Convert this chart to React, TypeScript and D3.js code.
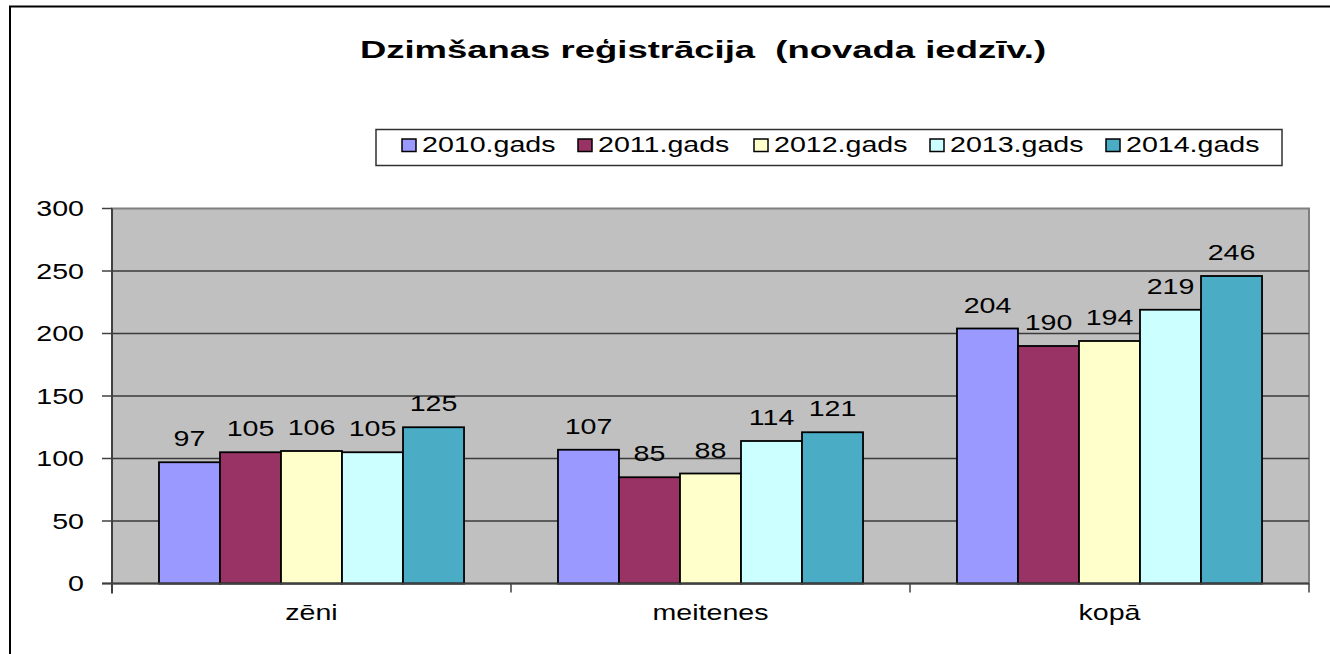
import React, { useRef, useEffect } from 'react';
import * as d3 from 'd3';

const categories = ['zēni', 'meitenes', 'kopā'];
const seriesNames = ['2010.gads', '2011.gads', '2012.gads', '2013.gads', '2014.gads'];
const seriesColors = ['#9999FF', '#993366', '#FFFFCC', '#CCFFFF', '#4BACC6'];
// values per series, in category order
const values2010 = [97, 107, 204];
const values2011 = [105, 85, 190];
const values2012 = [106, 88, 194];
const values2013 = [105, 114, 219];
const values2014 = [125, 121, 246];
const yTicks = [0, 50, 100, 150, 200, 250, 300];
const title = 'Dzimšanas reģistrācija  (novada iedzīv.)';

const seriesValues = [values2010, values2011, values2012, values2013, values2014];

const W = 1330;
const H = 654;
const FONT = '"Liberation Sans", Arial, sans-serif';
const SX = 1.3; // the source picture is stretched sideways

export default function App() {
    const ref = useRef<SVGSVGElement>(null);

    useEffect(() => {
        drawChart();
    }, []);

    const drawChart = () => {
        const svg = d3.select(ref.current);
        svg.selectAll('*').remove();

        const plot = { left: 112, right: 1309, top: 208.5, bottom: 583.5 };

        // outer frame
        svg.append('rect')
            .attr('x', 10).attr('y', 6.5)
            .attr('width', W).attr('height', H)
            .attr('fill', 'white')
            .attr('stroke', 'black')
            .attr('stroke-width', 2);

        const stretched = (sel: any, x: number, y: number, sx = SX) =>
            sel.attr('transform', `translate(${x},${y}) scale(${sx},1)`);

        // title
        svg.append('text')
            .call(stretched, 703, 58, 1.52)
            .attr('text-anchor', 'middle')
            .style('font-family', FONT)
            .style('font-size', '24px')
            .style('font-weight', 'bold')
            .style('white-space', 'pre')
            .text(title);

        const x0 = d3.scaleBand().domain(categories).range([plot.left, plot.right]);
        const x1 = d3.scaleBand().domain(seriesNames).range([0, x0.bandwidth()]).paddingOuter(0.77);
        const y = d3.scaleLinear().domain([0, 300]).range([plot.bottom, plot.top]);

        // plot background
        svg.append('rect')
            .attr('x', plot.left).attr('y', plot.top)
            .attr('width', plot.right - plot.left).attr('height', plot.bottom - plot.top)
            .attr('fill', '#C0C0C0')
            .attr('stroke', '#808080')
            .attr('stroke-width', 2);

        // gridlines
        svg.append('g')
            .selectAll('line')
            .data(yTicks.filter(d => d > 0 && d < 300))
            .join('line')
            .attr('x1', plot.left).attr('x2', plot.right)
            .attr('y1', d => y(d)).attr('y2', d => y(d))
            .attr('stroke', '#3a3a3a')
            .attr('stroke-width', 1.5);

        // bars
        const groups = svg.append('g')
            .selectAll('g')
            .data(seriesNames)
            .join('g')
            .attr('fill', (d, i) => seriesColors[i]);

        groups.selectAll('rect')
            .data((s, i) => seriesValues[i].map((v, c) => ({ s, v, c: categories[c] })))
            .join('rect')
            .attr('x', d => x0(d.c)! + x1(d.s)!)
            .attr('y', d => y(d.v))
            .attr('width', x1.bandwidth())
            .attr('height', d => y(0) - y(d.v))
            .attr('stroke', 'black')
            .attr('stroke-width', 1.8);

        // value labels
        groups.selectAll('text')
            .data((s, i) => seriesValues[i].map((v, c) => ({ s, v, c: categories[c] })))
            .join('text')
            .each(function (d) {
                stretched(d3.select(this), x0(d.c)! + x1(d.s)! + x1.bandwidth() / 2, y(d.v) - 16);
            })
            .attr('text-anchor', 'middle')
            .attr('fill', 'black')
            .style('font-family', FONT)
            .style('font-size', '22px')
            .text(d => d.v);

        // y axis
        svg.append('line')
            .attr('x1', plot.left).attr('x2', plot.left)
            .attr('y1', plot.top).attr('y2', plot.bottom + 10)
            .attr('stroke', '#404040').attr('stroke-width', 2);
        const yAxis = svg.append('g');
        yAxis.selectAll('line')
            .data(yTicks)
            .join('line')
            .attr('x1', plot.left - 10).attr('x2', plot.left)
            .attr('y1', d => y(d)).attr('y2', d => y(d))
            .attr('stroke', '#404040').attr('stroke-width', 1.5);
        yAxis.selectAll('text')
            .data(yTicks)
            .join('text')
            .each(function (d) {
                stretched(d3.select(this), 84, y(d) + 7.7);
            })
            .attr('text-anchor', 'end')
            .style('font-family', FONT)
            .style('font-size', '22px')
            .text(d => d);

        // x axis
        svg.append('line')
            .attr('x1', plot.left - 10).attr('x2', plot.right)
            .attr('y1', plot.bottom).attr('y2', plot.bottom)
            .attr('stroke', '#404040').attr('stroke-width', 2);
        const xAxis = svg.append('g');
        xAxis.selectAll('line')
            .data(categories.slice(1).map(c => x0(c)!).concat([plot.right]))
            .join('line')
            .attr('x1', d => d).attr('x2', d => d)
            .attr('y1', plot.bottom).attr('y2', plot.bottom + 9)
            .attr('stroke', '#404040').attr('stroke-width', 1.5);
        xAxis.selectAll('text')
            .data(categories)
            .join('text')
            .each(function (d) {
                stretched(d3.select(this), x0(d)! + x0.bandwidth() / 2, 620);
            })
            .attr('text-anchor', 'middle')
            .style('font-family', FONT)
            .style('font-size', '22px')
            .text(d => d);

        // legend
        const legend = svg.append('g');
        legend.append('rect')
            .attr('x', 376).attr('y', 129.5)
            .attr('width', 906).attr('height', 36)
            .attr('fill', 'white')
            .attr('stroke', '#303030')
            .attr('stroke-width', 1.5);
        const item = legend.selectAll('g')
            .data(seriesNames)
            .join('g')
            .attr('transform', (d, i) => `translate(${402 + i * 176}, 0)`);
        item.append('rect')
            .attr('x', 0).attr('y', 139)
            .attr('width', 14).attr('height', 12.5)
            .attr('fill', (d, i) => seriesColors[i])
            .attr('stroke', 'black')
            .attr('stroke-width', 1.5);
        item.append('text')
            .call(stretched, 20, 152)
            .style('font-family', FONT)
            .style('font-size', '22px')
            .text(d => d);
    };

    return (
        <svg
            ref={ref}
            width={W}
            height={H}
            style={{ position: 'absolute', left: 0, top: 0, background: 'white' }}
        />
    );
}
